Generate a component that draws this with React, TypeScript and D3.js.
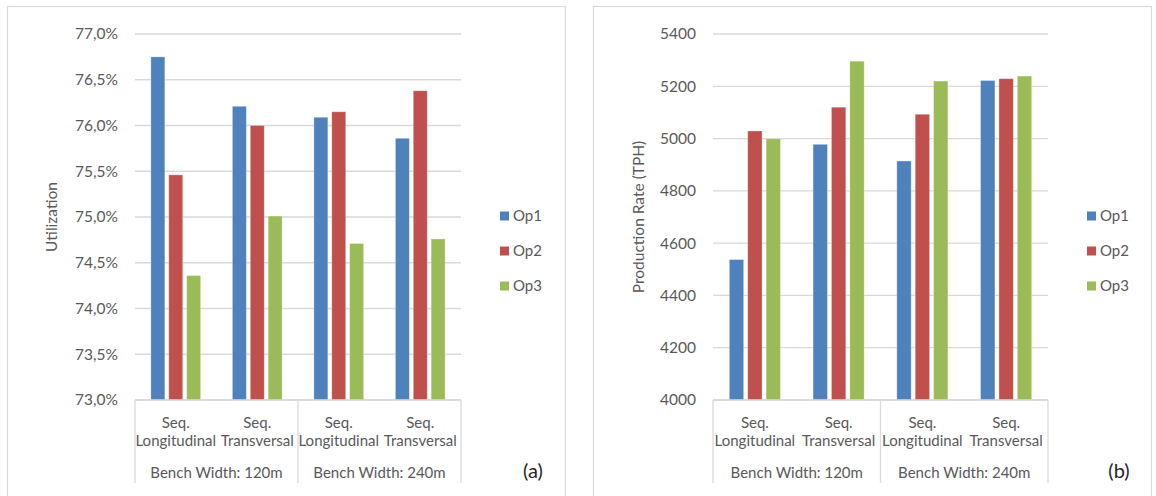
import React from 'react';
import * as d3 from 'd3';

// categories (inner + outer level of the category axis)
const subCats = ['Seq.|Longitudinal', 'Seq.|Transversal', 'Seq.|Longitudinal', 'Seq.|Transversal'];
const outerCats = ['Bench Width: 120m', 'Bench Width: 240m'];
const seriesNames = ['Op1', 'Op2', 'Op3'];
const colors = ['#4f81bd', '#c0504d', '#9bbb59'];

// (a) utilization, %
const utilOp1 = [76.75, 76.21, 76.09, 75.86];
const utilOp2 = [75.46, 76.0, 76.15, 76.38];
const utilOp3 = [74.36, 75.01, 74.71, 74.76];
const utilTicks = [73, 73.5, 74, 74.5, 75, 75.5, 76, 76.5, 77];

// (b) production rate, TPH
const prodOp1 = [4537, 4978, 4914, 5222];
const prodOp2 = [5029, 5120, 5093, 5229];
const prodOp3 = [4999, 5296, 5220, 5239];
const prodTicks = [4000, 4200, 4400, 4600, 4800, 5000, 5200, 5400];

const FONT = 'Lato, "Open Sans", sans-serif';
const TXT = '#595959';
const GRID = '#d9d9d9';

interface PanelProps {
  px: number; // panel frame left
  x0: number;
  x1: number;
  series: number[][];
  ticks: number[];
  domain: [number, number];
  fmt: (v: number) => string;
  title: string;
  titleX: number;
  legendX: number;
  tag: string;
  tagX: number;
}

const Panel = ({ px, x0, x1, series, ticks, domain, fmt, title, titleX, legendX, tag, tagX }: PanelProps) => {
  const yTop = 34;
  const yBot = 400;
  const y = d3.scaleLinear().domain(domain).range([yBot, yTop]);
  const x = d3.scaleBand<number>().domain(d3.range(subCats.length)).range([x0, x1])
    .paddingInner(0.39).paddingOuter(0.195);
  const xi = d3.scaleBand<number>().domain(d3.range(seriesNames.length)).range([0, x.bandwidth()])
    .paddingInner(0.22).paddingOuter(0);
  const mid = (x0 + x1) / 2;
  const step = (x1 - x0) / subCats.length;

  return (
    <g>
      <rect x={px + 0.5} y={6.5} width={558} height={520} fill="#fff" stroke={GRID} strokeWidth={1.2} />
      {ticks.map(t => (
        <g key={t}>
          <line x1={x0} x2={x1} y1={y(t)} y2={y(t)} stroke={GRID} strokeWidth={1.3} />
          <text x={x0 - 17} y={y(t)} dy="0.35em" textAnchor="end" fontSize={15.5} fill={TXT}>{fmt(t)}</text>
        </g>
      ))}
      {series.map((vals, si) => vals.map((v, ci) => (
        <rect key={`${si}-${ci}`} x={(x(ci) as number) + (xi(si) as number)} y={y(v)}
          width={xi.bandwidth()} height={yBot - y(v)} fill={colors[si]}
          stroke="#fff" strokeOpacity={0.35} strokeWidth={0.8} />
      )))}
      {/* category axis box */}
      <line x1={x0} x2={x1} y1={yBot} y2={yBot} stroke={GRID} strokeWidth={1.3} />
      {[x0, mid, x1].map((lx, i) => (
        <line key={i} x1={lx} x2={lx} y1={yBot} y2={483} stroke={GRID} strokeWidth={1.3} />
      ))}
      {subCats.map((c, i) => {
        const [a, b] = c.split('|');
        const cx = x0 + step * (i + 0.5);
        return (
          <g key={i}>
            <text x={cx} y={423} dy="0.35em" textAnchor="middle" fontSize={15} fill={TXT}>{a}</text>
            <text x={cx} y={441} dy="0.35em" textAnchor="middle" fontSize={15} fill={TXT}>{b}</text>
          </g>
        );
      })}
      {outerCats.map((c, i) => (
        <text key={c} x={x0 + (x1 - x0) / 4 * (2 * i + 1)} y={473} dy="0.35em" textAnchor="middle" fontSize={15} fill={TXT}>{c}</text>
      ))}
      <text transform={`translate(${titleX},${(yTop + yBot) / 2}) rotate(-90)`} dy="0.35em" textAnchor="middle" fontSize={15.5} fill={TXT}>{title}</text>
      {seriesNames.map((s, i) => (
        <g key={s}>
          <rect x={legendX} y={216 + i * 35 - 4.5} width={9} height={9} fill={colors[i]} />
          <text x={legendX + 13} y={216 + i * 35} dy="0.35em" fontSize={15} fill={TXT}>{s}</text>
        </g>
      ))}
      <text x={tagX} y={471} dy="0.35em" textAnchor="middle" fontSize={20} fill="#262626">{tag}</text>
    </g>
  );
};

const App = () => {
  const pct = (v: number) => v.toFixed(1).replace('.', ',') + '%';
  return (
    <svg width={1156} height={496} style={{ position: 'absolute', left: 0, top: 0, fontFamily: FONT }}>
      <rect width={1156} height={496} fill="#fff" />
      <Panel px={7} x0={135} x1={461} series={[utilOp1, utilOp2, utilOp3]} ticks={utilTicks}
        domain={[73, 77]} fmt={pct} title="Utilization" titleX={52} legendX={500} tag="(a)" tagX={533} />
      <Panel px={593} x0={713} x1={1048} series={[prodOp1, prodOp2, prodOp3]} ticks={prodTicks}
        domain={[4000, 5400]} fmt={v => String(v)} title="Production Rate (TPH)" titleX={639}
        legendX={1087} tag="(b)" tagX={1119} />
    </svg>
  );
};

export default App;
